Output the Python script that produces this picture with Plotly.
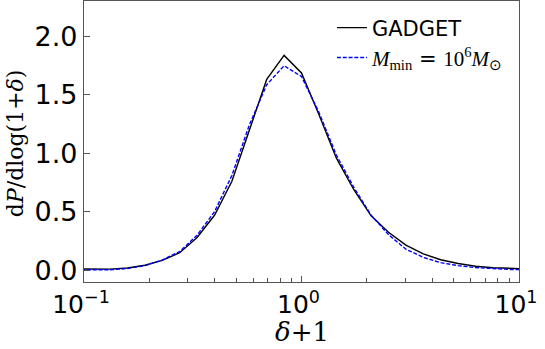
import plotly.graph_objects as go

# bin centres (delta + 1)
delta1 = [0.0912, 0.1096, 0.1318, 0.1585, 0.1905, 0.2291, 0.2754, 0.3311, 0.3981,
          0.4786, 0.5754, 0.6918, 0.8318, 1.0, 1.2023, 1.4454, 1.7378, 2.0893,
          2.5119, 3.0200, 3.6308, 4.3652, 5.2481, 6.3096, 7.5858, 9.1201, 10.965]
gadget = [0.012, 0.010, 0.010, 0.020, 0.043, 0.085, 0.15, 0.28, 0.47, 0.76, 1.20,
          1.63, 1.835, 1.685, 1.33, 0.96, 0.69, 0.465, 0.325, 0.215, 0.14, 0.09,
          0.058, 0.035, 0.022, 0.015, 0.012]
mmin = [0.004, 0.003, 0.005, 0.015, 0.040, 0.088, 0.16, 0.30, 0.50, 0.81, 1.24,
        1.585, 1.747, 1.655, 1.35, 0.985, 0.71, 0.47, 0.305, 0.18, 0.11, 0.065,
        0.04, 0.023, 0.013, 0.007, 0.005]
SERIF = "'Liberation Serif'"
names = ["GADGET",
         f"<span style=\"font-family:{SERIF}\"><i>M</i><sub>min</sub></span> = "
         f"<span style=\"font-family:{SERIF}\">10<sup>6</sup><i>M</i><sub>⊙</sub></span>"]
xtick_vals = [0.1, 1, 10]
xtick_text = ["10<sup>−1</sup>", "10<sup>0</sup>", "10<sup>1</sup>"]
ytick_vals = [0.0, 0.5, 1.0, 1.5, 2.0]
xminor = [0.2, 0.3, 0.4, 0.5, 0.6, 0.7, 0.8, 0.9, 2, 3, 4, 5, 6, 7, 8, 9]

fig = go.Figure()
fig.add_trace(go.Scatter(x=delta1, y=gadget, mode="lines", name=names[0],
                         legend="legend",
                         line=dict(color="black", width=1.4)))
fig.add_trace(go.Scatter(x=delta1, y=mmin, mode="lines", name=names[1],
                         legend="legend2",
                         line=dict(color="#0000ff", width=1.4, dash="4px,1.8px")))

axcol = "#555555"
leg_common = dict(xanchor="left", yanchor="middle", bgcolor="rgba(0,0,0,0)",
                  itemwidth=30)
fig.update_layout(
    width=545, height=349,
    margin=dict(l=84, r=26, t=1, b=67, autoexpand=False),
    paper_bgcolor="white", plot_bgcolor="white",
    font=dict(family="DejaVu Sans", color="black"),
    showlegend=True,
    legend=dict(x=0.57, y=1 - 27 / 281.6,
                font=dict(size=21, family="DejaVu Sans"), **leg_common),
    legend2=dict(x=0.57, y=1 - 57 / 281.6,
                 font=dict(size=21, family="DejaVu Sans"), **leg_common),
    xaxis=dict(type="log", range=[-1, 1], tickvals=xtick_vals, ticktext=xtick_text,
               ticks="inside", ticklen=6, tickwidth=1, tickcolor=axcol,
               tickfont=dict(size=25, family="DejaVu Sans"), ticklabelshift=-3,
               showline=True, linecolor=axcol, linewidth=1.3, mirror=True,
               showgrid=False, zeroline=False, automargin=False,
               minor=dict(tickvals=xminor, ticks="inside", ticklen=3.5,
                          tickcolor=axcol, showgrid=False)),
    yaxis=dict(range=[-0.1, 2.3], tickvals=ytick_vals, tickformat=".1f",
               ticks="inside", ticklen=6, tickwidth=1, tickcolor=axcol,
               tickfont=dict(size=27, family="DejaVu Sans"), ticklabelstandoff=0,
               showline=True, linecolor=axcol, linewidth=1.3, mirror=True,
               showgrid=False, zeroline=False, automargin=False),
    annotations=[
        dict(text="d<i>P</i>/dlog(1+<i>δ</i>)", xref="paper", yref="paper",
             x=-0.157, y=0.493, xanchor="center", yanchor="middle", textangle=-90,
             showarrow=False, font=dict(size=22, family="DejaVu Serif")),
        dict(text="<i>δ</i>+1",
             xref="paper", yref="paper", x=0.5, y=-0.178, xanchor="center",
             yanchor="middle", showarrow=False,
             font=dict(size=26, family="DejaVu Serif")),
    ],
)
fig.write_html("out.html", config={"displayModeBar": False},
               post_script="document.body.style.margin='0px';")
